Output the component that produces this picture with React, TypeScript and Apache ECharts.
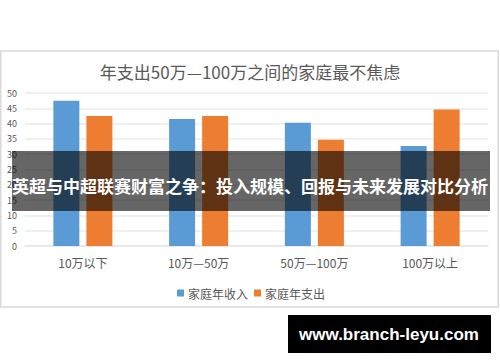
import React, { useEffect, useRef } from "react";
import * as echarts from "echarts";

const categories = ["10万以下", "10万—50万", "50万—100万", "100万以上"];
const incomeValues = [47.5, 41.5, 40.3, 32.7];
const expenseValues = [42.5, 42.5, 34.7, 44.6];
const seriesNames = ["家庭年收入", "家庭年支出"];
const titleText = "年支出50万—100万之间的家庭最不焦虑";
const bannerText = "英超与中超联赛财富之争：投入规模、回报与未来发展对比分析";
const watermarkText = "www.branch-leyu.com";

const FONT = '"Noto Sans CJK SC", "Liberation Sans", sans-serif';

export default function App() {
  const ref = useRef<HTMLDivElement>(null);
  useEffect(() => {
    if (!ref.current) return;
    const chart = echarts.init(ref.current, null, { renderer: "svg" });
    chart.setOption({
      animation: false,
      backgroundColor: "#ffffff",
      textStyle: { fontFamily: FONT },
      title: {
        text: titleText,
        left: "center",
        top: 58,
        textStyle: { fontSize: 17, fontWeight: "normal", color: "#595959", fontFamily: FONT },
      },
      legend: {
        data: seriesNames,
        left: 172,
        top: 282,
        icon: "rect",
        itemWidth: 7,
        itemHeight: 7,
        itemGap: 6,
        textStyle: { fontSize: 12, color: "#595959", fontFamily: FONT, padding: [0, 0, 0, -1] },
      },
      grid: { left: 25, right: 12, top: 93, bottom: 116, containLabel: false },
      xAxis: {
        type: "category",
        data: categories,
        axisLine: { lineStyle: { color: "#e6e6e6", width: 1.5 } },
        axisTick: { show: false },
        axisLabel: { fontSize: 12, color: "#595959", margin: 10, fontFamily: FONT },
      },
      yAxis: {
        type: "value",
        min: 0,
        max: 50,
        interval: 5,
        axisLine: { show: false },
        axisTick: { show: false },
        axisLabel: { fontSize: 9, color: "#595959", margin: 8, fontFamily: FONT },
        splitLine: { lineStyle: { color: "#ebebeb", width: 1.5 } },
      },
      series: [
        {
          name: seriesNames[0],
          type: "bar",
          data: incomeValues,
          barWidth: 26,
          barGap: "27%",
          itemStyle: { color: "#5b9bd5" },
        },
        {
          name: seriesNames[1],
          type: "bar",
          data: expenseValues,
          barWidth: 26,
          itemStyle: { color: "#ed7d31" },
        },
      ],
      graphic: [
        {
          type: "rect",
          z: 50,
          shape: { x: 0.75, y: 51, width: 497.5, height: 256 },
          style: { fill: "none", stroke: "#d9d9d9", lineWidth: 1.5 },
        },
        {
          type: "rect",
          z: 100,
          shape: { x: 12, y: 151, width: 478, height: 60 },
          style: { fill: "rgba(0,0,0,0.6)" },
        },
        {
          type: "text",
          z: 101,
          x: 250,
          y: 185,
          style: {
            text: bannerText,
            fill: "#ffffff",
            fontSize: 17,
            fontWeight: "bold",
            fontFamily: FONT,
            textAlign: "center",
            textVerticalAlign: "middle",
          },
        },
        {
          type: "rect",
          z: 100,
          shape: { x: 288, y: 315, width: 203, height: 38 },
          style: { fill: "#000000" },
        },
        {
          type: "text",
          z: 101,
          x: 389,
          y: 334,
          style: {
            text: watermarkText,
            fill: "#ffffff",
            fontSize: 17,
            fontWeight: "bold",
            fontFamily: '"Liberation Sans", Arial, sans-serif',
            textAlign: "center",
            textVerticalAlign: "middle",
          },
        },
      ],
    });
    return () => chart.dispose();
  }, []);
  return (
    <div
      ref={ref}
      style={{ position: "fixed", left: 0, top: 0, width: 500, height: 362 }}
    />
  );
}
